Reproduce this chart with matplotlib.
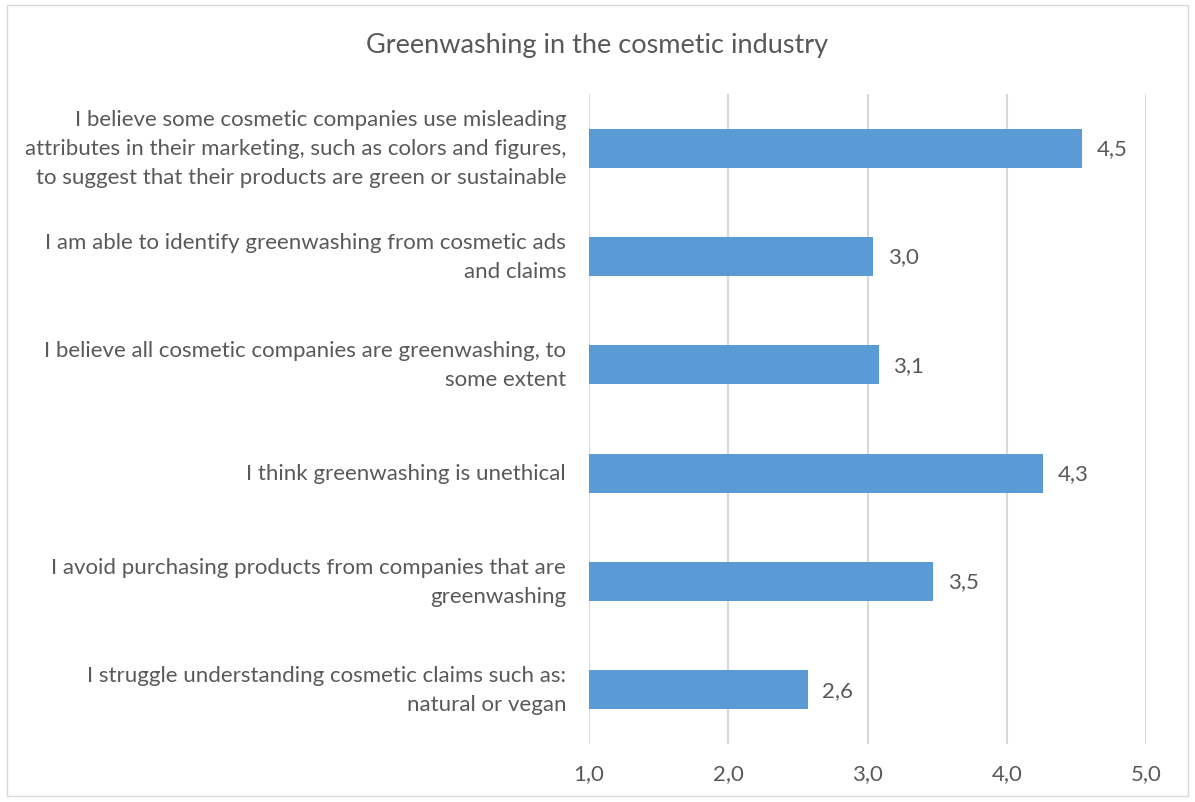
import matplotlib
matplotlib.use("Agg")
import matplotlib.pyplot as plt
from matplotlib.patches import Rectangle

plt.rcParams['font.family'] = ['Lato', 'DejaVu Sans']

title = "Greenwashing in the cosmetic industry"
statements = [
    "I believe some cosmetic companies use misleading\nattributes in their marketing, such as colors and figures,\nto suggest that their products are green or sustainable",
    "I am able to identify greenwashing from cosmetic ads\nand claims",
    "I believe all cosmetic companies are greenwashing, to\nsome extent",
    "I think greenwashing is unethical",
    "I avoid purchasing products from companies that are\ngreenwashing",
    "I struggle understanding cosmetic claims such as:\nnatural or vegan",
]
scores = [4.54, 3.04, 3.08, 4.26, 3.47, 2.57]
x_ticks = [1.0, 2.0, 3.0, 4.0, 5.0]

text_color = "#595959"
bar_color = "#5b9bd5"
grid_color = "#d9d9d9"

W, H = 1195, 803
fig = plt.figure(figsize=(W / 100, H / 100), dpi=100)

# outer chart border
fig.patches.append(Rectangle((7 / W, 6 / H), 1181 / W, 791 / H, transform=fig.transFigure,
                             fill=False, edgecolor=grid_color, linewidth=1.0))

ax = fig.add_axes([589 / W, 58 / H, 557 / W, 650 / H])
ypos = list(range(len(statements)))
base = 1.0
ax.barh(ypos, [s - base for s in scores], left=base, height=0.36, color=bar_color, zorder=3)

for y, s in zip(ypos, scores):
    ax.annotate(f"{s:.1f}".replace(".", ","), xy=(s, y), xytext=(10.5, 0),
                textcoords="offset points", va="center", ha="left",
                fontsize=16, color=text_color)

ax.set_xlim(1.0, 5.0)
ax.set_ylim(len(statements) - 0.5, -0.5)
ax.set_xticks(x_ticks)
ax.set_xticklabels([f"{t:.1f}".replace(".", ",") for t in x_ticks])
ax.set_yticks(ypos)
ax.set_yticklabels(statements, linespacing=1.58)
ax.tick_params(axis="x", length=0, pad=14, labelsize=16, labelcolor=text_color)
ax.tick_params(axis="y", length=0, pad=16.5, labelsize=16, labelcolor=text_color)
for lbl in ax.get_yticklabels():
    lbl.set_horizontalalignment("right")
    lbl.set_verticalalignment("center")
for sp in ax.spines.values():
    sp.set_visible(False)
ax.grid(axis="x", color=grid_color, linewidth=1.5, zorder=0)
ax.set_axisbelow(True)

fig.text(597 / W, 1 - 45 / H, title, ha="center", va="center", fontsize=19.5, color=text_color)

fig.savefig("out.png", dpi=100)
